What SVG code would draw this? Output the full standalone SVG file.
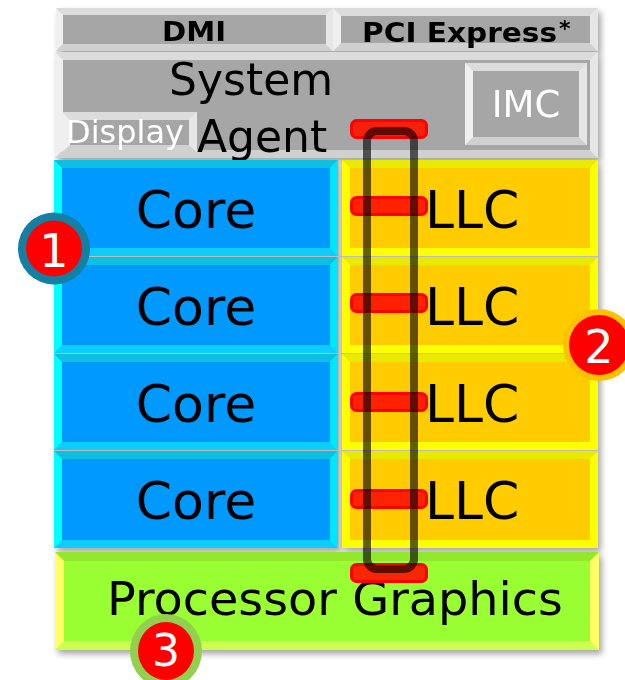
<svg xmlns="http://www.w3.org/2000/svg" width="625" height="680" viewBox="0 0 625 680">
  <defs>
    <filter id="shadow" x="-5%" y="-5%" width="115%" height="115%">
      <feGaussianBlur in="SourceAlpha" stdDeviation="3"/>
      <feOffset dx="3" dy="4" result="b"/>
      <feComponentTransfer><feFuncA type="linear" slope="0.35"/></feComponentTransfer>
      <feMerge><feMergeNode/><feMergeNode in="SourceGraphic"/></feMerge>
    </filter>
    <style>
      text { font-family: "DejaVu Sans", Verdana, sans-serif; }
      .lbl { font-size: 52px; fill: #000; }
      .big { font-size: 44px; fill: #000; }
      .bar { font-size: 27px; font-weight: bold; fill: #000; }
      .wht { fill: #fff; }
      .num { font-size: 46px; fill: #fff; text-anchor: middle; }

      .g-face { fill: #a6a6a6; }
      .g-top { fill: #dcdcdc; } .g-left { fill: #efefef; }
      .g-right { fill: #e6e6e6; } .g-bot { fill: #d0d0d0; }

      .c-face { fill: #0099ff; }
      .c-top { fill: #10c0e2; } .c-left { fill: #00ffff; }
      .c-right { fill: #00e6ff; } .c-bot { fill: #0dcdff; }

      .l-face { fill: #ffcc00; }
      .l-top { fill: #eaea00; } .l-left { fill: #ffff00; }

      .p-face { fill: #99ff33; }
      .p-top { fill: #93e82f; } .p-left { fill: #ffff66; }
      .p-bot { fill: #ccff4d; }

      .sep { stroke: #bdbdbd; stroke-width: 1; }
      .stub { fill: #ff1400; fill-opacity: 0.92; stroke: #ff0000; stroke-width: 3; }
      .ring { fill: none; stroke: #000; stroke-opacity: 0.62; stroke-width: 8; }
    </style>
  </defs>

  <!-- die blocks -->
  <g filter="url(#shadow)">
    <g id="dmi">
      <rect x="56" y="8" width="277" height="43" class="g-left"/>
      <polygon points="56,8 333,8 326,15 63,15" class="g-top"/>
      <polygon points="56,51 333,51 326,44 63,44" class="g-bot"/>
      <polygon points="333,8 326,15 326,44 333,51" class="g-right"/>
      <rect x="63" y="15" width="263" height="29" class="g-face"/>
      <text x="194" y="41" class="bar" text-anchor="middle" textLength="64" lengthAdjust="spacingAndGlyphs">DMI</text>
    </g>

    <g id="pci-express">
      <rect x="333" y="8" width="265" height="43" class="g-left"/>
      <polygon points="333,8 598,8 590,16 341,16" class="g-top"/>
      <polygon points="333,51 598,51 590,43 341,43" class="g-bot"/>
      <polygon points="598,8 590,16 590,43 598,51" class="g-right"/>
      <rect x="341" y="16" width="249" height="27" class="g-face"/>
      <text x="362" y="42" class="bar" textLength="195" lengthAdjust="spacingAndGlyphs">PCI Express</text>
      <text x="559" y="36" class="bar" style="font-size:22px">*</text>
    </g>

    <g id="system-agent">
      <rect x="55" y="52" width="543" height="106" class="g-left"/>
      <polygon points="55,52 598,52 590,60 63,60" class="g-top"/>
      <polygon points="55,158 598,158 590,150 63,150" class="g-bot"/>
      <polygon points="598,52 590,60 590,150 598,158" class="g-right"/>
      <rect x="63" y="60" width="527" height="90" class="g-face"/>
      <text x="169" y="95" class="big">System</text>
      <text x="197" y="152" class="big">Agent</text>
    </g>

    <g id="imc">
      <rect x="465" y="63" width="122" height="82" class="g-left"/>
      <polygon points="465,63 587,63 579,71 473,71" class="g-top"/>
      <polygon points="465,145 587,145 579,137 473,137" class="g-bot"/>
      <polygon points="587,63 579,71 579,137 587,145" class="g-right"/>
      <rect x="473" y="71" width="106" height="66" class="g-face"/>
      <text x="526" y="117" class="wht" style="font-size:37px" text-anchor="middle">IMC</text>
    </g>

    <g id="display">
      <rect x="62" y="112" width="135" height="40" class="g-left"/>
      <polygon points="62,112 197,112 189,120 70,120" class="g-top"/>
      <polygon points="62,152 197,152 189,145 70,145" class="g-bot"/>
      <polygon points="197,112 189,120 189,145 197,152" class="g-right"/>
      <rect x="70" y="120" width="119" height="25" class="g-face"/>
      <text x="66" y="143" class="wht" style="font-size:32px">Display</text>
    </g>

    <g id="core-1">
      <rect x="54" y="160" width="284" height="96" class="c-left"/>
      <polygon points="54,160 338,160 330,168 62,168" class="c-top"/>
      <polygon points="54,256 338,256 330,248 62,248" class="c-bot"/>
      <polygon points="338,160 330,168 330,248 338,256" class="c-right"/>
      <rect x="62" y="168" width="268" height="80" class="c-face"/>
      <text x="196" y="228" class="lbl" text-anchor="middle">Core</text>
    </g>
    <g id="core-2">
      <rect x="54" y="257" width="284" height="96" class="c-left"/>
      <polygon points="54,257 338,257 330,265 62,265" class="c-top"/>
      <polygon points="54,353 338,353 330,345 62,345" class="c-bot"/>
      <polygon points="338,257 330,265 330,345 338,353" class="c-right"/>
      <rect x="62" y="265" width="268" height="80" class="c-face"/>
      <text x="196" y="325" class="lbl" text-anchor="middle">Core</text>
    </g>
    <g id="core-3">
      <rect x="54" y="354" width="284" height="96" class="c-left"/>
      <polygon points="54,354 338,354 330,362 62,362" class="c-top"/>
      <polygon points="54,450 338,450 330,442 62,442" class="c-bot"/>
      <polygon points="338,354 330,362 330,442 338,450" class="c-right"/>
      <rect x="62" y="362" width="268" height="80" class="c-face"/>
      <text x="196" y="422" class="lbl" text-anchor="middle">Core</text>
    </g>
    <g id="core-4">
      <rect x="54" y="451" width="284" height="97" class="c-left"/>
      <polygon points="54,451 338,451 330,459 62,459" class="c-top"/>
      <polygon points="54,548 338,548 330,540 62,540" class="c-bot"/>
      <polygon points="338,451 330,459 330,540 338,548" class="c-right"/>
      <rect x="62" y="459" width="268" height="81" class="c-face"/>
      <text x="196" y="519" class="lbl" text-anchor="middle">Core</text>
    </g>

    <g id="llc-1">
      <rect x="342" y="160" width="256" height="96" class="l-left"/>
      <polygon points="342,160 598,160 590,168 350,168" class="l-top"/>
      <rect x="350" y="168" width="240" height="80" class="l-face"/>
      <text x="425" y="228" class="lbl">LLC</text>
    </g>
    <g id="llc-2">
      <rect x="342" y="257" width="256" height="96" class="l-left"/>
      <polygon points="342,257 598,257 590,265 350,265" class="l-top"/>
      <rect x="350" y="265" width="240" height="80" class="l-face"/>
      <text x="425" y="325" class="lbl">LLC</text>
    </g>
    <g id="llc-3">
      <rect x="342" y="354" width="256" height="96" class="l-left"/>
      <polygon points="342,354 598,354 590,362 350,362" class="l-top"/>
      <rect x="350" y="362" width="240" height="80" class="l-face"/>
      <text x="425" y="422" class="lbl">LLC</text>
    </g>
    <g id="llc-4">
      <rect x="342" y="451" width="256" height="97" class="l-left"/>
      <polygon points="342,451 598,451 590,459 350,459" class="l-top"/>
      <rect x="350" y="459" width="240" height="81" class="l-face"/>
      <text x="425" y="519" class="lbl">LLC</text>
    </g>

    <!-- thin seams between stacked slices -->
    <line x1="54" y1="256.5" x2="598" y2="256.5" class="sep"/>
    <line x1="54" y1="353.5" x2="598" y2="353.5" class="sep"/>
    <line x1="54" y1="450.5" x2="598" y2="450.5" class="sep"/>
    <line x1="340" y1="160" x2="340" y2="548" class="sep"/>

    <g id="processor-graphics">
      <rect x="55" y="552" width="544" height="98" class="p-left"/>
      <polygon points="55,552 599,552 590,561 64,561" class="p-top"/>
      <polygon points="55,650 599,650 590,641 64,641" class="p-bot"/>
      <rect x="64" y="561" width="526" height="80" class="p-face"/>
      <text x="107" y="615" class="big" style="font-size:46px" textLength="456" lengthAdjust="spacingAndGlyphs">Processor Graphics</text>
    </g>
  </g>

  <!-- ring interconnect with its stops -->
  <g id="ring">
    <rect x="351.5" y="120.5" width="75" height="17" rx="5" class="stub"/>
    <rect x="351.5" y="197.5" width="75" height="17" rx="5" class="stub"/>
    <rect x="351.5" y="294.5" width="75" height="17" rx="5" class="stub"/>
    <rect x="351.5" y="393.5" width="75" height="17" rx="5" class="stub"/>
    <rect x="351.5" y="490.5" width="75" height="17" rx="5" class="stub"/>
    <rect x="351.5" y="564.5" width="75" height="17" rx="5" class="stub"/>
    <rect x="367" y="131" width="47" height="438" rx="10" class="ring"/>
  </g>

  <!-- numbered callouts -->
  <g id="badge-1">
    <circle cx="54" cy="248.5" r="36" fill="#137fa3"/>
    <circle cx="54" cy="248.5" r="28" fill="#ff0000"/>
    <text x="54" y="267" class="num">1</text>
  </g>
  <g id="badge-2">
    <circle cx="599" cy="345" r="36" fill="#ffc000"/>
    <circle cx="599" cy="345" r="30" fill="#ff0000"/>
    <text x="599" y="363" class="num">2</text>
  </g>
  <g id="badge-3">
    <ellipse cx="166" cy="651" rx="36" ry="37" fill="#92d050"/>
    <ellipse cx="166" cy="651" rx="28" ry="29" fill="#ff0000"/>
    <text x="166" y="666" class="num" style="font-size:44px">3</text>
  </g>
</svg>
